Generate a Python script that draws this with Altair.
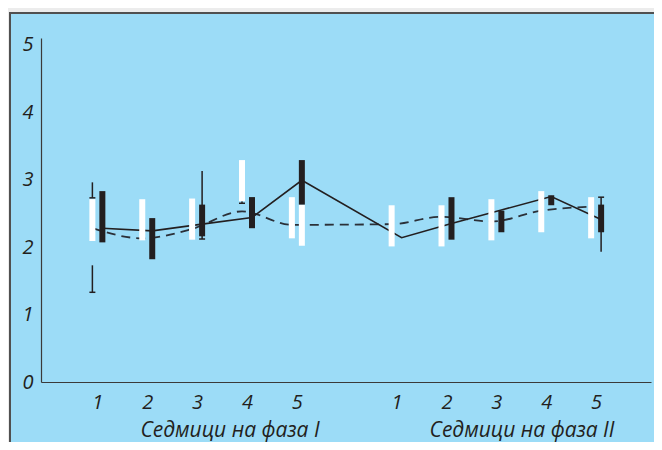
import altair as alt
import pandas as pd

# ---- data ----
weeks = [1, 2, 3, 4, 5, 7, 8, 9, 10, 11]
white_low = [2.09, 2.10, 2.11, 2.68, 2.13, 2.01, 2.01, 2.10, 2.22, 2.13]
white_high = [2.71, 2.71, 2.72, 3.29, 2.74, 2.62, 2.62, 2.71, 2.83, 2.74]

black_weeks = [1, 2, 3, 4, 5, 8, 9, 10, 11]
black_low = [2.07, 1.82, 2.16, 2.28, 2.63, 2.11, 2.22, 2.62, 2.22]
black_high = [2.83, 2.43, 2.63, 2.73, 3.29, 2.74, 2.54, 2.77, 2.63]

extra_white_weeks = [5]
extra_white_low = [2.02]
extra_white_high = [2.63]

solid_line = [2.28, 2.24, 2.34, 2.44, 2.99, 2.14, 2.35, 2.55, 2.75, 2.41]
dashed_line = [2.28, 2.13, 2.27, 2.53, 2.33, 2.34, 2.45, 2.38, 2.54, 2.60]

whisker_weeks = [1, 1, 3, 4, 11]
whisker_side = ["w", "w", "b", "w", "b"]
whisker_low = [2.73, 1.33, 2.12, 2.65, 1.93]
whisker_high = [2.96, 1.73, 3.13, 2.68, 2.74]

cap_weeks = [1, 1, 3, 4, 4, 11]
cap_side = ["w", "w", "b", "w", "b", "b"]
cap_value = [2.73, 1.33, 2.12, 2.65, 2.73, 2.74]

tick_values = [1, 2, 3, 4, 5, 7, 8, 9, 10, 11]
y_ticks = [0, 1, 2, 3, 4, 5]
title_1 = "Седмици на фаза I"
title_2 = "Седмици на фаза II"

# ---- styling ----
DARK = "#231f20"
BLUE = "#9cdcf7"
GREY = "#ececec"
FONT = "Open Sans"
OFF = 0.1

white_df = pd.DataFrame({"week": weeks, "lo": white_low, "hi": white_high})
extra_df = pd.DataFrame({"week": extra_white_weeks, "lo": extra_white_low, "hi": extra_white_high})
black_df = pd.DataFrame({"week": black_weeks, "lo": black_low, "hi": black_high})
solid_df = pd.DataFrame({"week": weeks, "v": solid_line})
dashed_df = pd.DataFrame({"week": weeks, "v": dashed_line})
whisk_df = pd.DataFrame({"week": whisker_weeks, "side": whisker_side, "lo": whisker_low, "hi": whisker_high})
cap_df = pd.DataFrame({"week": cap_weeks, "side": cap_side, "v": cap_value})

xs = alt.Scale(domain=[-0.03, 12], nice=False, zero=False)
ys = alt.Scale(domain=[0, 5.1], nice=False)

x_axis = alt.Axis(values=tick_values, labelExpr="datum.value > 6 ? datum.value - 6 : datum.value",
                  title=None, ticks=False, grid=False, labelPadding=10, domainColor="#3a3a3a",
                  domainWidth=1.2, labelFontSize=20, labelFont=FONT, labelFontStyle="italic",
                  labelColor=DARK, labelFlush=False)
y_axis = alt.Axis(values=y_ticks, title=None, ticks=False, grid=False, labelPadding=8,
                  domainColor="#3a3a3a", domainWidth=1.2, labelFontSize=20, labelFont=FONT,
                  labelFontStyle="italic", labelColor=DARK)

one = alt.Data(values=[{}])
strip_top = alt.Chart(one).mark_rect(fill=GREY).encode(
    x=alt.value(-40), x2=alt.value(640), y=alt.value(-40), y2=alt.value(-25))
strip_left = alt.Chart(one).mark_rect(fill=GREY).encode(
    x=alt.value(-40), x2=alt.value(-31), y=alt.value(-40), y2=alt.value(420))
border_top = alt.Chart(one).mark_rule(color="#505050", strokeWidth=2).encode(
    x=alt.value(-32), x2=alt.value(640), y=alt.value(-25))
border_left = alt.Chart(one).mark_rule(color="#505050", strokeWidth=2).encode(
    x=alt.value(-31), y=alt.value(-26), y2=alt.value(420))


def X(field):
    return alt.X(field, scale=xs, axis=x_axis)


def Y(field):
    return alt.Y(field, scale=ys, axis=y_axis)


dashed = alt.Chart(dashed_df).transform_calculate(xp=f"datum.week - {OFF}").mark_line(
    color="#2b3038", strokeWidth=1.8, strokeDash=[9, 6], interpolate="monotone"
).encode(x=X("xp:Q"), y=Y("v:Q"))

solid = alt.Chart(solid_df).transform_calculate(xp=f"datum.week + {OFF}").mark_line(
    color=DARK, strokeWidth=1.6
).encode(x=X("xp:Q"), y=Y("v:Q"))

whisk = alt.Chart(whisk_df).transform_calculate(
    xp=f"datum.side == 'w' ? datum.week - {OFF} : datum.week + {OFF}"
).mark_rule(color=DARK, strokeWidth=1.5).encode(x=X("xp:Q"), y=Y("lo:Q"), y2="hi:Q")

caps = alt.Chart(cap_df).transform_calculate(
    xc=f"datum.side == 'w' ? datum.week - {OFF} : datum.week + {OFF}"
).transform_calculate(x1="datum.xc - 0.06", x2="datum.xc + 0.06").mark_rule(
    color=DARK, strokeWidth=1.5).encode(x=X("x1:Q"), x2="x2:Q", y=Y("v:Q"))

white_bars = alt.Chart(white_df).transform_calculate(xp=f"datum.week - {OFF}").mark_bar(
    size=6, color="white").encode(x=X("xp:Q"), y=Y("lo:Q"), y2="hi:Q")

extra_bars = alt.Chart(extra_df).transform_calculate(xp=f"datum.week + {OFF}").mark_bar(
    size=6, color="white").encode(x=X("xp:Q"), y=Y("lo:Q"), y2="hi:Q")

black_bars = alt.Chart(black_df).transform_calculate(xp=f"datum.week + {OFF}").mark_bar(
    size=6, color=DARK).encode(x=X("xp:Q"), y=Y("lo:Q"), y2="hi:Q")

title_style = dict(font=FONT, fontSize=21, fontStyle="italic", color=DARK, align="center",
                   baseline="middle")
t1 = alt.Chart(one).mark_text(text=title_1, **title_style).encode(
    x=alt.value(189), y=alt.value(393))
t2 = alt.Chart(one).mark_text(text=title_2, **title_style).encode(
    x=alt.value(481), y=alt.value(393))

chart = alt.layer(
    strip_top, strip_left, border_top, border_left,
    dashed, solid, whisk, caps, white_bars, extra_bars, black_bars, t1, t2
).properties(
    width=610, height=344,
    autosize=alt.AutoSizeParams(type="none"),
    padding={"left": 33, "top": 30, "right": 3, "bottom": 60},
).configure(background=BLUE).configure_view(stroke=None)

chart.save("out.html", embed_options={"renderer": "svg", "actions": False})
